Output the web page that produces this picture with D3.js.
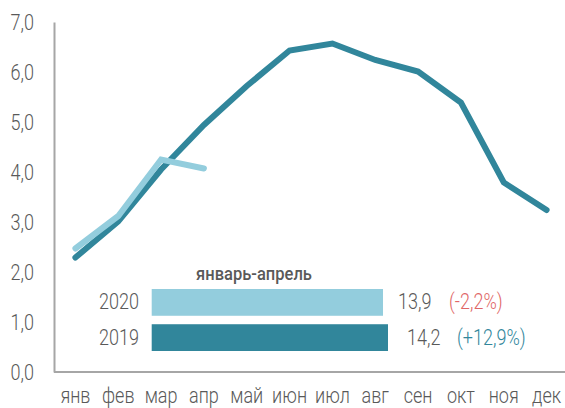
<!DOCTYPE html>
<html><head><meta charset="utf-8">
<script src="https://cdn.jsdelivr.net/npm/d3@7"></script>
<style>body{margin:0;background:#fff;} svg{display:block;} text{font-family:Roboto,"Noto Sans",sans-serif;}</style>
</head><body><div id="c"></div>
<script>
const months = ["янв","фев","мар","апр","май","июн","июл","авг","сен","окт","ноя","дек"];
const values2019 = [2.29,3.01,4.05,4.94,5.72,6.43,6.57,6.24,6.01,5.39,3.79,3.24];
const values2020 = [2.47,3.12,4.25,4.07];
const yTicks = [0,1,2,3,4,5,6,7];
const barYears = ["2020","2019"];
const barTotals = [13.9,14.2];
const barTotalLabels = ["13,9","14,2"];
const barChanges = ["(-2,2%)","(+12,9%)"];
const barTitle = "январь-апрель";

const W=565,H=408, SX=0.82, FS="22px";
const c2019="#31869B", c2020="#93CDDD", textC="#595959";
const svg=d3.select("#c").append("svg").attr("width",W).attr("height",H);
const x=d3.scaleBand().domain(months).range([54,568]);
const y=d3.scaleLinear().domain([0,7]).range([372,22]);
const fmt=d=>d3.format(".1f")(d).replace(".",",");

function txt(px,py,str,anchor,color,size,weight,sx,dy){
  const g=svg.append("g").attr("transform",`translate(${px},${py}) scale(${sx},1)`);
  return g.append("text").attr("text-anchor",anchor).attr("dy",dy).attr("fill",color)
    .style("font-size",size).style("font-weight",weight).text(str);
}

// axes
const ya=svg.append("g").attr("transform","translate(54,0)").call(d3.axisLeft(y).tickValues(yTicks).tickFormat(fmt).tickSize(0).tickPadding(20));
ya.select(".domain").attr("stroke","#a6a6a6").attr("stroke-width",2);
ya.selectAll("text").attr("fill",textC).style("font-size",FS).style("font-weight",300).style("font-family","Roboto")
  .attr("x",-20/SX).attr("transform",`scale(${SX},1)`);
const xa=svg.append("g").attr("transform","translate(0,372)").call(d3.axisBottom(x).tickSize(0).tickPadding(15));
xa.select(".domain").attr("stroke","#a6a6a6").attr("stroke-width",2).attr("d","M54,0H568");
xa.selectAll("text").attr("fill",textC).style("font-size",FS).style("font-weight",300).style("font-family","Roboto")
  .attr("transform",`scale(${SX},1)`);

const line=d3.line().x((d,i)=>x(months[i])+x.bandwidth()/2).y(d=>y(d));
svg.append("path").attr("d",line(values2019)).attr("fill","none").attr("stroke",c2019).attr("stroke-width",6).attr("stroke-linecap","round").attr("stroke-linejoin","miter");
svg.append("path").attr("d",line(values2020)).attr("fill","none").attr("stroke",c2020).attr("stroke-width",6).attr("stroke-linecap","round").attr("stroke-linejoin","miter");

// bar inset
const bx=d3.scaleLinear().domain([0,14.2]).range([151.7,388]);
const by=d3.scaleBand().domain(barYears).range([289,351]).paddingInner(0.24);
const bcol=[c2020,c2019], chCol=["#E06666","#31869B"];
const valOff=[15,19], chOff=[66,69];
txt(254,280,barTitle,"middle",textC,"19px",500,0.87,"0");
barYears.forEach((yr,i)=>{
  const yy=by(yr), h=by.bandwidth(), cy=yy+h/2;
  svg.append("rect").attr("x",bx(0)).attr("y",yy).attr("width",bx(barTotals[i])-bx(0)).attr("height",h).attr("fill",bcol[i]);
  txt(139,cy-1,yr,"end",textC,FS,300,SX,"0.36em");
  txt(bx(barTotals[i])+valOff[i],cy-1,barTotalLabels[i],"start",textC,FS,300,SX,"0.36em");
  txt(bx(barTotals[i])+chOff[i],cy-1,barChanges[i],"start",chCol[i],FS,300,SX,"0.36em");
});
</script></body></html>
